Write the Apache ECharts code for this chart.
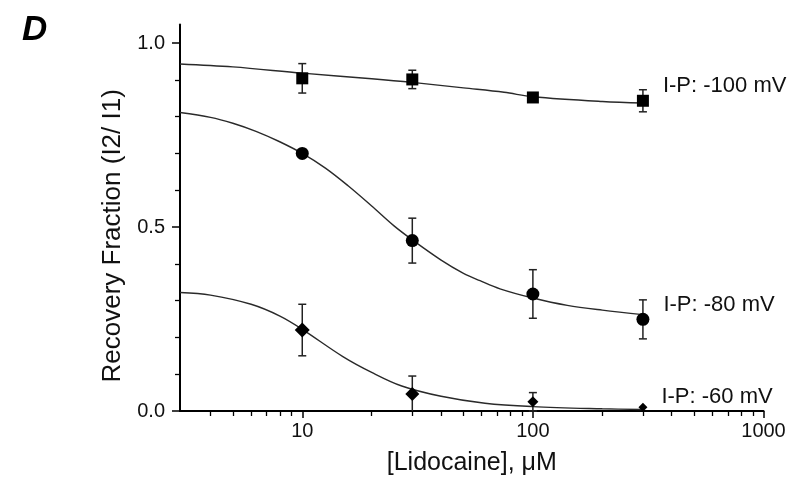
<!DOCTYPE html>
<html><head><meta charset="utf-8">
<script src="https://cdn.jsdelivr.net/npm/echarts@6/dist/echarts.min.js"></script>
<style>html,body{margin:0;padding:0;background:#fff}#c{width:798px;height:481px}</style>
</head><body><div id="c"></div>
<script>
// ---- data ----
const concentrations = [10, 30, 100, 300];
const seriesNames = ['I-P: -100 mV', 'I-P: -80 mV', 'I-P: -60 mV'];

const values100 = [0.904, 0.901, 0.852, 0.843];
const errors100 = [0.040, 0.025, 0, 0.030];
const values80 = [0.700, 0.463, 0.318, 0.249];
const errors80 = [0, 0.061, 0.066, 0.053];
const values60 = [0.220, 0.046, 0.025, 0.010];
const errors60 = [0.070, 0.049, 0.025, 0];
const markerSizes60 = [15, 14, 11, 9];

// fitted curves
const fit100X = [2.95, 5, 10, 20, 30, 50, 75, 100, 200, 300];
const fit100Y = [0.943, 0.935, 0.918, 0.903, 0.893, 0.878, 0.866, 0.854, 0.841, 0.837];
const fit80X = [2.95, 4, 5, 6.3, 7.9, 10, 12.6, 15.8, 20, 25, 30, 40, 50, 59, 72, 100, 141, 200, 300];
const fit80Y = [0.811, 0.798, 0.782, 0.760, 0.733, 0.700, 0.660, 0.612, 0.557, 0.503, 0.465, 0.410, 0.374, 0.354, 0.332, 0.307, 0.287, 0.274, 0.262];
const fit60X = [2.95, 4, 6, 8, 10, 15, 20, 27, 40, 62, 100, 200, 300];
const fit60Y = [0.322, 0.315, 0.290, 0.258, 0.222, 0.148, 0.105, 0.068, 0.040, 0.021, 0.012, 0.006, 0.004];

const xTickLabels = [10, 100, 1000];
const xMinorTicks = [4, 5, 6, 7, 8, 9, 20, 30, 40, 50, 60, 70, 80, 90, 200, 300, 400, 500, 600, 700, 800, 900];
const yTickLabels = [0, 0.5, 1.0];
const yMinorTicks = [0.1, 0.2, 0.3, 0.4, 0.6, 0.7, 0.8, 0.9];

const X_MIN = 2.95, X_MAX = 1000, Y_MIN = 0, Y_MAX = 1.05;
const FONT = '"Liberation Sans", Arial, sans-serif';
const INK = '#111';

function zip(xs, ys) { return xs.map((x, i) => [x, ys[i]]); }

function pointData(vals, name, offY, sizes) {
  return concentrations.map((c, i) => {
    const item = { value: [c, vals[i]] };
    if (sizes) item.symbolSize = sizes[i];
    if (i === concentrations.length - 1) {
      item.label = {
        show: true, position: 'right', distance: 14, offset: [0, offY],
        formatter: name, fontSize: 22, fontFamily: FONT, color: INK
      };
    }
    return item;
  });
}

function errData(vals, errs) { return concentrations.map((c, i) => [c, vals[i], errs[i]]); }

function errRender(params, api) {
  const x = api.value(0), y = api.value(1), e = api.value(2);
  if (!e) return null;
  const lo = Math.max(Y_MIN, y - e);
  const top = api.coord([x, y + e]);
  const bot = api.coord([x, lo]);
  const hw = 4;
  const style = { stroke: '#222', lineWidth: 1.5 };
  const children = [
    { type: 'line', shape: { x1: top[0], y1: top[1], x2: bot[0], y2: bot[1] }, style },
    { type: 'line', shape: { x1: top[0] - hw, y1: top[1], x2: top[0] + hw, y2: top[1] }, style }
  ];
  if (y - e >= Y_MIN) {
    children.push({ type: 'line', shape: { x1: bot[0] - hw, y1: bot[1], x2: bot[0] + hw, y2: bot[1] }, style });
  }
  return { type: 'group', children };
}

const chart = echarts.init(document.getElementById('c'), null, { renderer: 'canvas' });

const curveStyle = { color: '#2a2a2a', width: 1.4 };
const markerStyle = { color: '#000', opacity: 1 };

chart.setOption({
  animation: false,
  backgroundColor: '#fff',
  textStyle: { fontFamily: FONT },
  grid: { left: 180, right: 34.5, top: 24.6, bottom: 70, containLabel: false },
  graphic: [{
    type: 'text', left: 22, top: 13,
    style: { text: 'D', font: 'italic bold 35px ' + FONT, fill: '#000' }
  }],
  xAxis: [{
    type: 'log', logBase: 10, min: X_MIN, max: X_MAX, position: 'bottom',
    name: '[Lidocaine], \u03bcM', nameLocation: 'middle', nameGap: 40,
    nameTextStyle: { fontSize: 25, color: INK, fontFamily: FONT },
    axisLine: { show: true, lineStyle: { color: '#000', width: 2 } },
    axisTick: { show: true, inside: false, length: 7, customValues: xTickLabels, lineStyle: { color: '#000', width: 1.5 } },
    axisLabel: { customValues: xTickLabels, margin: 10, fontSize: 20, color: INK, fontFamily: FONT,
      formatter: v => String(Math.round(v)) },
    splitLine: { show: false }, minorTick: { show: false }
  }, {
    type: 'log', logBase: 10, min: X_MIN, max: X_MAX, position: 'bottom', gridIndex: 0,
    axisLine: { show: false },
    axisTick: { show: true, inside: false, length: 5, customValues: xMinorTicks, lineStyle: { color: '#000', width: 1.3 } },
    axisLabel: { show: false }, splitLine: { show: false }
  }],
  yAxis: [{
    type: 'value', min: Y_MIN, max: Y_MAX, position: 'left',
    name: 'Recovery Fraction (I2/ I1)', nameLocation: 'middle', nameGap: 50,
    nameTextStyle: { fontSize: 26, color: INK, fontFamily: FONT, padding: [0, 36, 0, 0] },
    axisLine: { show: true, lineStyle: { color: '#000', width: 2 } },
    axisTick: { show: true, inside: false, length: 8, customValues: yTickLabels, lineStyle: { color: '#000', width: 1.5 } },
    axisLabel: { customValues: yTickLabels, margin: 15, fontSize: 20, color: INK, fontFamily: FONT,
      formatter: v => Number(v).toFixed(1) },
    splitLine: { show: false }
  }, {
    type: 'value', min: Y_MIN, max: Y_MAX, position: 'left', offset: 0,
    axisLine: { show: false },
    axisTick: { show: true, inside: false, length: 5, customValues: yMinorTicks, lineStyle: { color: '#000', width: 1.3 } },
    axisLabel: { show: false }, splitLine: { show: false }
  }],
  series: [
    { type: 'line', data: zip(fit100X, fit100Y), smooth: 0.35, showSymbol: false, symbol: 'none', lineStyle: curveStyle, z: 2, silent: true },
    { type: 'line', data: zip(fit80X, fit80Y), smooth: 0.35, showSymbol: false, symbol: 'none', lineStyle: curveStyle, z: 2, silent: true },
    { type: 'line', data: zip(fit60X, fit60Y), smooth: 0.35, showSymbol: false, symbol: 'none', lineStyle: curveStyle, z: 2, silent: true },
    { type: 'custom', renderItem: errRender, data: errData(values100, errors100), encode: { x: 0, y: 1 }, z: 3, silent: true },
    { type: 'custom', renderItem: errRender, data: errData(values80, errors80), encode: { x: 0, y: 1 }, z: 3, silent: true },
    { type: 'custom', renderItem: errRender, data: errData(values60, errors60), encode: { x: 0, y: 1 }, z: 3, silent: true },
    { type: 'scatter', name: seriesNames[0], data: pointData(values100, seriesNames[0], -15), symbol: 'rect', symbolSize: 12, itemStyle: markerStyle, z: 4 },
    { type: 'scatter', name: seriesNames[1], data: pointData(values80, seriesNames[1], -14), symbol: 'circle', symbolSize: 13, itemStyle: markerStyle, z: 4 },
    { type: 'scatter', name: seriesNames[2], data: pointData(values60, seriesNames[2], -10, markerSizes60), symbol: 'diamond', symbolSize: 14, itemStyle: markerStyle, z: 4 }
  ]
});
</script>
</body></html>
